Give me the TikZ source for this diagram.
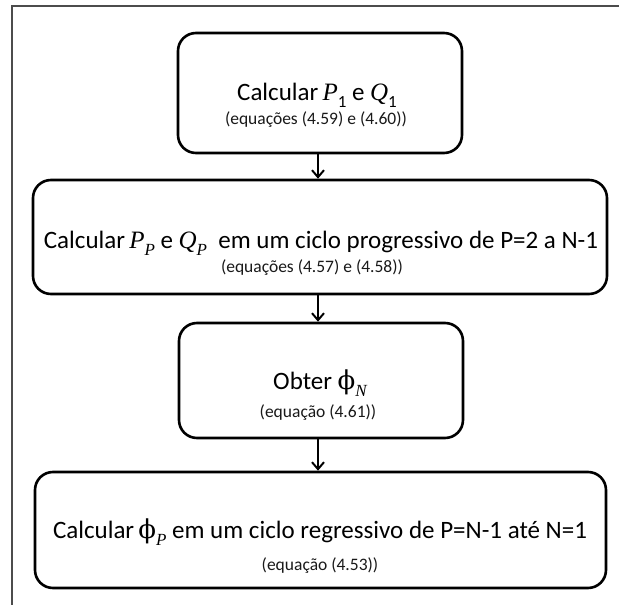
\documentclass[tikz,border=0pt]{standalone}
\usepackage{fontspec}
\setmainfont{Carlito}
\newfontfamily\phifont{DejaVu Serif}
\newfontfamily\varfont{Liberation Serif}
\usetikzlibrary{arrows.meta}
% symbols used in the box labels
\newcommand{\vphi}{{\phifont\fontsize{26}{28}\selectfont\symbol{"03D5}}}
\newcommand{\var}[1]{{\varfont\itshape #1}}
\newcommand{\sub}[1]{\raisebox{-0.28em}{\fontsize{17}{17}\selectfont #1}}
\tikzset{
  stepbox/.style={draw=black, line width=2.6pt, rounded corners=18pt, fill=white, inner sep=0pt},
  maintext/.style={anchor=base, font=\fontsize{25}{28}\selectfont, inner sep=0pt},
  reftext/.style={anchor=base, font=\fontsize{17.5}{19}\selectfont, inner sep=0pt, text=black!90},
  flow/.style={line width=2.4pt, -{Straight Barb[length=7pt, width=12pt, line width=2pt]}},
  frame/.style={draw=black!70, line width=1.4pt}
}
\begin{document}
\begin{tikzpicture}[x=1pt, y=-1pt]
\useasboundingbox (0,0) rectangle (619,605);
% outer frame (top and left edges)
\draw[frame] (12,605) -- (12,6) -- (619,6);

% process boxes
\node[stepbox, minimum width=284pt, minimum height=120pt] (b1) at (320,93) {};
\node[stepbox, minimum width=574pt, minimum height=114pt] (b2) at (320,237) {};
\node[stepbox, minimum width=284pt, minimum height=115pt] (b3) at (321,380.5) {};
\node[stepbox, minimum width=571pt, minimum height=116pt] (b4) at (320.5,530) {};

% box texts
\node[maintext] (t1a) at (317,100) {Calcular\,\var{P}\sub{1} e \var{Q}\sub{1}};
\node[reftext]  (t1b) at (316,124) {(equações (4.59) e (4.60))};
\node[maintext] (t2a) at (321,248) {Calcular\,\var{P}\sub{\var{P}} e \var{Q}\sub{\var{P}}\ \ em um ciclo progressivo de P=2 a N-1};
\node[reftext]  (t2b) at (312,272) {(equações (4.57) e (4.58))};
\node[maintext] (t3a) at (320,389) {Obter \vphi\sub{\var{N}}};
\node[reftext]  (t3b) at (318,417) {(equação (4.61))};
\node[maintext] (t4a) at (320,538) {Calcular\,\vphi\sub{\var{P}} em um ciclo regressivo de P=N-1 até N=1};
\node[reftext]  (t4b) at (320,570) {(equação (4.53))};

% connectors
\draw[flow] (b1.south -| 318,0) -- (b2.north -| 318,0);
\draw[flow] (b2.south -| 318,0) -- (b3.north -| 318,0);
\draw[flow] (b3.south -| 318,0) -- (b4.north -| 318,0);
\end{tikzpicture}
\end{document}
